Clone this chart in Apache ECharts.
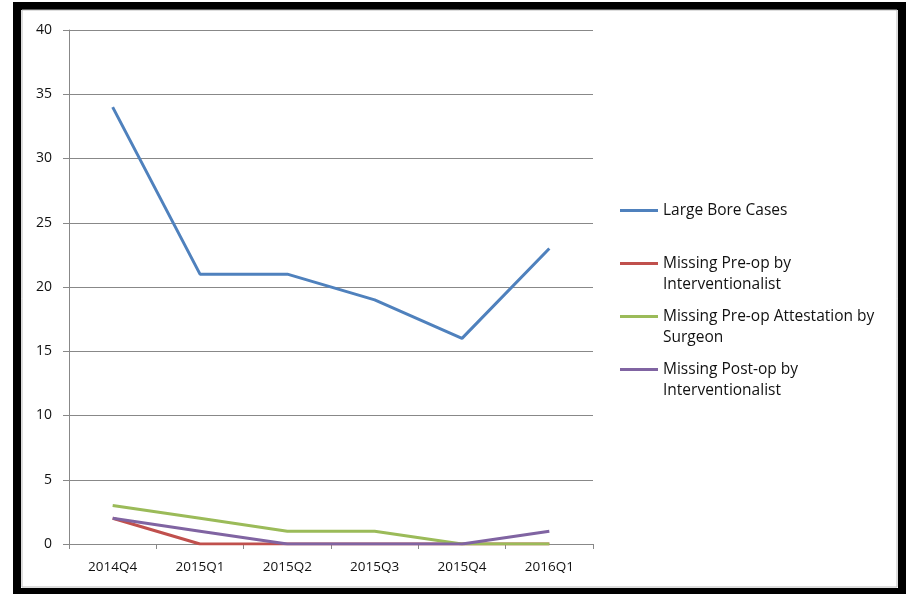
<!DOCTYPE html>
<html><head><meta charset="utf-8">
<script src="https://cdn.jsdelivr.net/npm/echarts@6/dist/echarts.min.js"></script>
<style>html,body{margin:0;padding:0;background:#fff}#c{width:909px;height:594px}</style>
</head><body><div id="c"></div>
<script>
var categories = ['2014Q4','2015Q1','2015Q2','2015Q3','2015Q4','2016Q1'];
var largeBore = [34, 21, 21, 19, 16, 23];
var missingPreop = [2, 0, 0, 0, 0, 0];
var missingAttest = [3, 2, 1, 1, 0, 0];
var missingPostop = [2, 1, 0, 0, 0, 1];
var seriesNames = ['Large Bore Cases','Missing Pre-op by\nInterventionalist','Missing Pre-op Attestation by\nSurgeon','Missing Post-op by\nInterventionalist'];
var colors = ['#4F81BD','#C0504D','#9BBB59','#8064A2'];
var yTicks = {min:0, max:40, interval:5};

var chart = echarts.init(document.getElementById('c'));
var font = 'Open Sans';
var data = [largeBore, missingPreop, missingAttest, missingPostop];
chart.setOption({
  animation:false,
  color: colors,
  graphic:[{type:'rect', shape:{x:17,y:6,width:885,height:586}, style:{fill:'none',stroke:'#000',lineWidth:8}, silent:true},
           {type:'rect', shape:{x:22,y:10,width:875,height:577}, style:{fill:'none',stroke:'#bbb',lineWidth:1}, silent:true}],
  grid:{left:69, right:316, top:30, bottom:50, containLabel:false},
  legend:{
    orient:'vertical', left:620, top:179, padding:0, itemWidth:38, itemHeight:3, itemGap:-10,
    icon:'rect',
    textStyle:{fontFamily:font, fontSize:15.5, color:'#111', lineHeight:21},
    formatter:function(n){ return n.indexOf('\n')<0 ? ' \n'+n+'\n ' : ' \n'+n; },
    data: seriesNames
  },
  xAxis:{type:'category', data:categories, boundaryGap:true,
    axisLine:{lineStyle:{color:'#888',width:1}},
    axisTick:{show:true, length:5, lineStyle:{color:'#888'}, alignWithLabel:false},
    axisLabel:{fontFamily:font, fontSize:13.5, color:'#111', margin:16}
  },
  yAxis:{type:'value', min:yTicks.min, max:yTicks.max, interval:yTicks.interval,
    axisLine:{show:true, lineStyle:{color:'#888',width:1}},
    axisTick:{show:true, length:6, lineStyle:{color:'#888'}},
    splitLine:{lineStyle:{color:'#888',width:1}},
    axisLabel:{fontFamily:font, fontSize:14, color:'#111', margin:17}
  },
  series: seriesNames.map(function(n,i){ return {name:n, type:'line', data:data[i], symbol:'none', lineStyle:{width:3, color:colors[i]}, itemStyle:{color:colors[i]}}; })
});
</script></body></html>
